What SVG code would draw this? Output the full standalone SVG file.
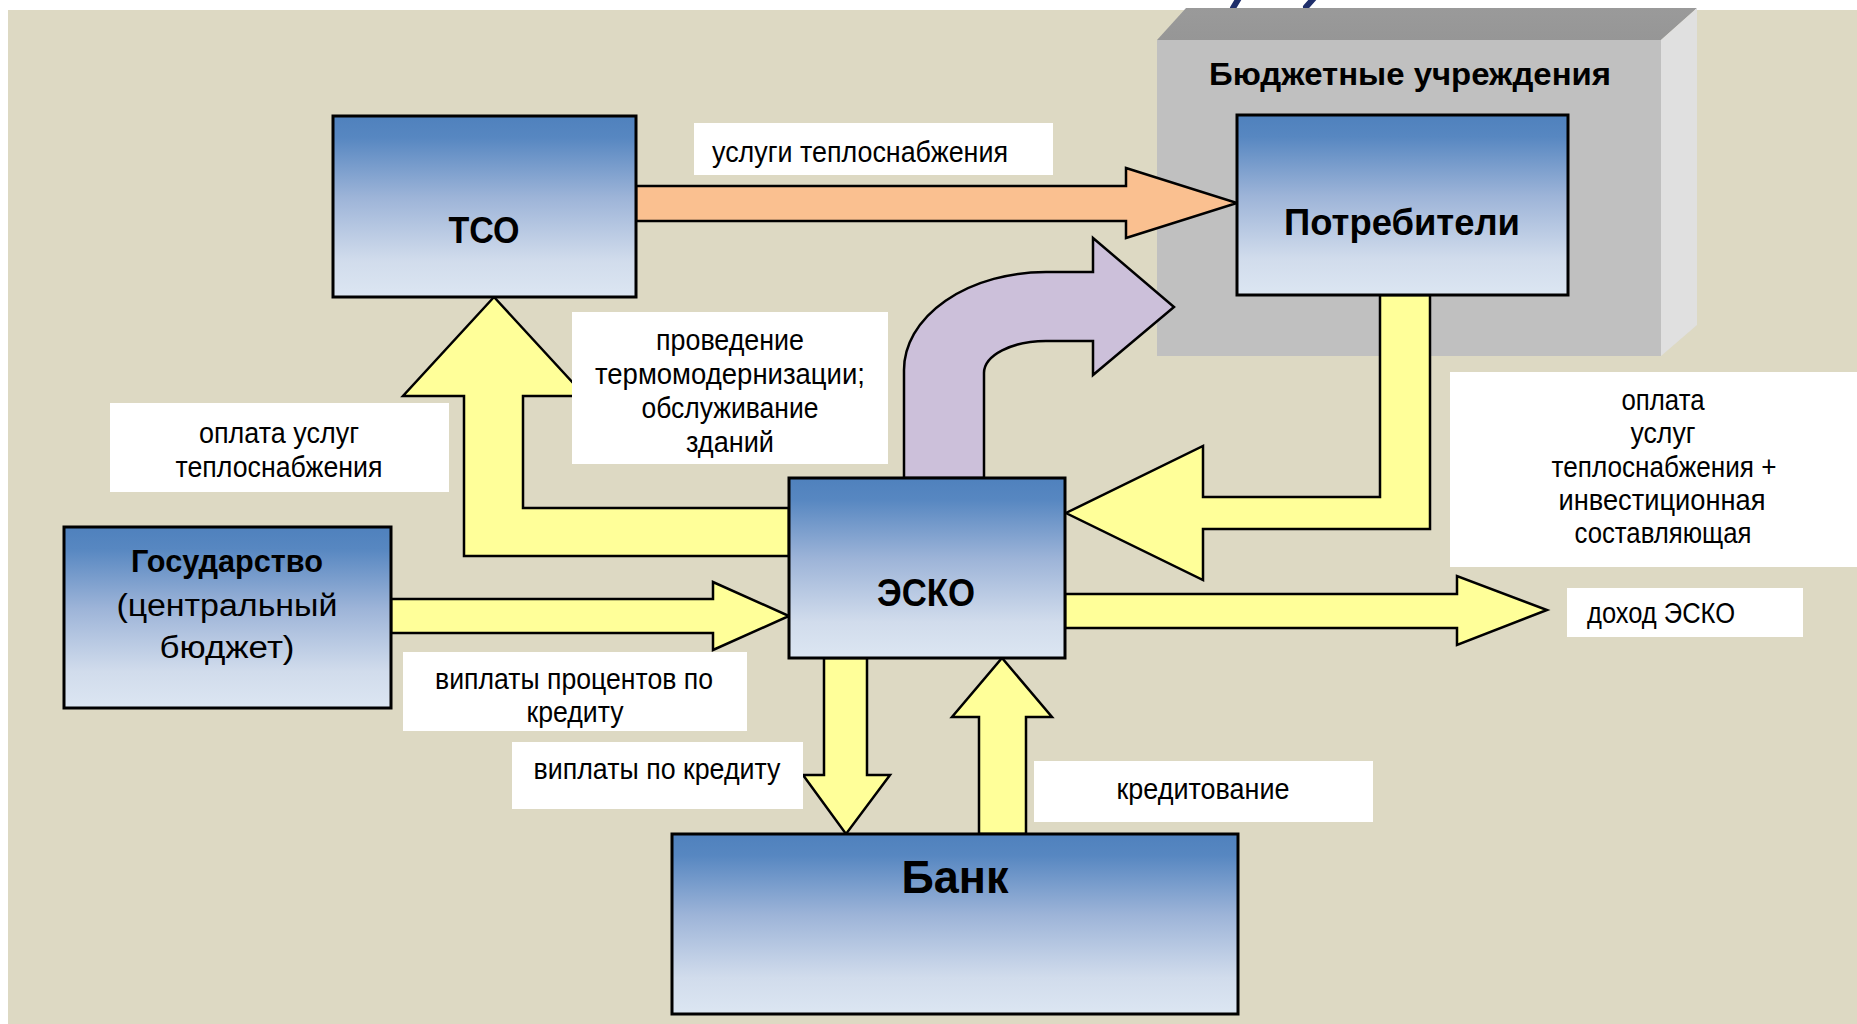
<svg xmlns="http://www.w3.org/2000/svg" width="1857" height="1024" viewBox="0 0 1857 1024">
<defs>
<linearGradient id="nodeGrad" x1="0" y1="0" x2="0" y2="1">
<stop offset="0" stop-color="#4F81BD"/>
<stop offset="0.12" stop-color="#5787C1"/>
<stop offset="0.45" stop-color="#9DB4D8"/>
<stop offset="0.8" stop-color="#D1DCEC"/>
<stop offset="1" stop-color="#DCE6F2"/>
</linearGradient>
<linearGradient id="topGrad" x1="0" y1="0" x2="0" y2="1">
<stop offset="0" stop-color="#9A9A9A"/>
<stop offset="1" stop-color="#969696"/>
</linearGradient>
</defs>
<style>
.node{fill:url(#nodeGrad);stroke:#000;stroke-width:3}
.arrowY{fill:#FFFF99;stroke:#000;stroke-width:2.5;stroke-linejoin:miter}
.arrowO{fill:#FAC090;stroke:#000;stroke-width:2.5}
.arrowP{fill:#CCC0DA;stroke:#000;stroke-width:2.5}
.lbl{fill:#fff}
.t{font-family:"Liberation Sans",Arial,sans-serif;font-size:29px;fill:#000}
.tb{font-family:"Liberation Sans",Arial,sans-serif;font-weight:bold;fill:#000}
.tr{font-family:"Liberation Sans",Arial,sans-serif;fill:#000}
</style>
<rect x="0" y="0" width="1857" height="1024" fill="#FFFFFF"/>
<rect x="8" y="10" width="1849" height="1014" fill="#DDD9C3"/>
<g id="title-fragments" stroke="#1F2F6B" stroke-width="6" stroke-linecap="round">
<line x1="1239" y1="-2" x2="1233" y2="8"/>
<line x1="1314" y1="-2" x2="1306" y2="7"/>
</g>
<g id="budget-institutions">
<polygon points="1157,40 1186,8 1697,8 1661,40" fill="url(#topGrad)"/>
<polygon points="1661,40 1697,8 1697,325 1661,356" fill="#E0E0E0"/>
<rect x="1157" y="40" width="504" height="316" fill="#C0C0C0"/>
<text class="tb" x="1410" y="85" font-size="31" text-anchor="middle" textLength="402" lengthAdjust="spacingAndGlyphs">Бюджетные учреждения</text>
</g>
<g id="connectors">
<path id="c-tso-potr" class="arrowO" d="M636,186 L1126,186 L1126,168 L1237,203 L1126,238 L1126,221 L636,221 Z"/>
<path id="c-esco-potr" class="arrowP" d="M904,478 L904,370 A142,98 0 0 1 1046,272 L1093,272 L1093,238 L1174,307 L1093,375 L1093,341 L1046,341 A62,32 0 0 0 984,373 L984,478 Z"/>
<path id="c-esco-tso" class="arrowY" d="M494,297 L585,396 L523,396 L523,508 L789,508 L789,556 L464,556 L464,396 L403,396 Z"/>
<path id="c-potr-esco" class="arrowY" d="M1380,295 L1430,295 L1430,529 L1203,529 L1203,580 L1066,513 L1203,446 L1203,497 L1380,497 Z"/>
<path id="c-gos-esco" class="arrowY" d="M391,599 L713,599 L713,582 L789,616 L713,650 L713,633 L391,633 Z"/>
<path id="c-esco-income" class="arrowY" d="M1065,594 L1457,594 L1457,576 L1547,610 L1457,645 L1457,628 L1065,628 Z"/>
<path id="c-esco-bank" class="arrowY" d="M824,658 L867,658 L867,775 L890,775 L846,834 L803,775 L824,775 Z"/>
<path id="c-bank-esco" class="arrowY" d="M979,834 L979,717 L952,717 L1002,658 L1052,717 L1026,717 L1026,834 Z"/>
</g>
<g id="node-tso">
<rect class="node" x="333" y="116" width="303" height="181"/>
<text class="tb" x="484" y="243" font-size="37" text-anchor="middle" textLength="71" lengthAdjust="spacingAndGlyphs">ТСО</text>
</g>
<g id="node-potrebiteli">
<rect class="node" x="1237" y="115" width="331" height="180"/>
<text class="tb" x="1402" y="235" font-size="36" text-anchor="middle" textLength="236" lengthAdjust="spacingAndGlyphs">Потребители</text>
</g>
<g id="node-esco">
<rect class="node" x="789" y="478" width="276" height="180"/>
<text class="tb" x="926" y="606" font-size="38" text-anchor="middle" textLength="98" lengthAdjust="spacingAndGlyphs">ЭСКО</text>
</g>
<g id="node-gos">
<rect class="node" x="64" y="527" width="327" height="181"/>
<text class="tb" x="227" y="572" font-size="31" text-anchor="middle" textLength="192" lengthAdjust="spacingAndGlyphs">Государство</text>
<text class="tr" x="227" y="616" font-size="31" text-anchor="middle" textLength="221" lengthAdjust="spacingAndGlyphs">(центральный</text>
<text class="tr" x="227" y="658" font-size="31" text-anchor="middle" textLength="135" lengthAdjust="spacingAndGlyphs">бюджет)</text>
</g>
<g id="node-bank">
<rect class="node" x="672" y="834" width="566" height="180"/>
<text class="tb" x="955" y="893" font-size="46" text-anchor="middle" textLength="107" lengthAdjust="spacingAndGlyphs">Банк</text>
</g>
<g id="labels">
<g id="lbl-uslugi">
<rect class="lbl" x="694" y="123" width="359" height="52"/>
<text class="t" x="712" y="162" textLength="296" lengthAdjust="spacingAndGlyphs">услуги теплоснабжения</text>
</g>
<g id="lbl-provedenie">
<rect class="lbl" x="572" y="312" width="316" height="152"/>
<text class="t" x="730" y="350" text-anchor="middle" textLength="148" lengthAdjust="spacingAndGlyphs">проведение</text>
<text class="t" x="730" y="384" text-anchor="middle" textLength="270" lengthAdjust="spacingAndGlyphs">термомодернизации;</text>
<text class="t" x="730" y="418" text-anchor="middle" textLength="177" lengthAdjust="spacingAndGlyphs">обслуживание</text>
<text class="t" x="730" y="452" text-anchor="middle" textLength="88" lengthAdjust="spacingAndGlyphs">зданий</text>
</g>
<g id="lbl-oplata-left">
<rect class="lbl" x="110" y="403" width="339" height="89"/>
<text class="t" x="279" y="443" text-anchor="middle" textLength="160" lengthAdjust="spacingAndGlyphs">оплата услуг</text>
<text class="t" x="279" y="477" text-anchor="middle" textLength="207" lengthAdjust="spacingAndGlyphs">теплоснабжения</text>
</g>
<g id="lbl-oplata-right">
<rect class="lbl" x="1450" y="372" width="407" height="195"/>
<text class="t" x="1663" y="410" text-anchor="middle" textLength="83" lengthAdjust="spacingAndGlyphs">оплата</text>
<text class="t" x="1663" y="443" text-anchor="middle" textLength="65" lengthAdjust="spacingAndGlyphs">услуг</text>
<text class="t" x="1664" y="477" text-anchor="middle" textLength="225" lengthAdjust="spacingAndGlyphs">теплоснабжения +</text>
<text class="t" x="1662" y="510" text-anchor="middle" textLength="207" lengthAdjust="spacingAndGlyphs">инвестиционная</text>
<text class="t" x="1663" y="543" text-anchor="middle" textLength="177" lengthAdjust="spacingAndGlyphs">составляющая</text>
</g>
<g id="lbl-dohod">
<rect class="lbl" x="1567" y="588" width="236" height="49"/>
<text class="t" x="1587" y="623" textLength="148" lengthAdjust="spacingAndGlyphs">доход ЭСКО</text>
</g>
<g id="lbl-procenty">
<rect class="lbl" x="403" y="652" width="344" height="79"/>
<text class="t" x="574" y="689" text-anchor="middle" textLength="278" lengthAdjust="spacingAndGlyphs">виплаты процентов по</text>
<text class="t" x="575" y="722" text-anchor="middle" textLength="97" lengthAdjust="spacingAndGlyphs">кредиту</text>
</g>
<g id="lbl-viplaty">
<rect class="lbl" x="512" y="742" width="291" height="67"/>
<text class="t" x="657" y="779" text-anchor="middle" textLength="247" lengthAdjust="spacingAndGlyphs">виплаты по кредиту</text>
</g>
<g id="lbl-kreditovanie">
<rect class="lbl" x="1034" y="761" width="339" height="61"/>
<text class="t" x="1203" y="799" text-anchor="middle" textLength="173" lengthAdjust="spacingAndGlyphs">кредитование</text>
</g>
</g>
</svg>
